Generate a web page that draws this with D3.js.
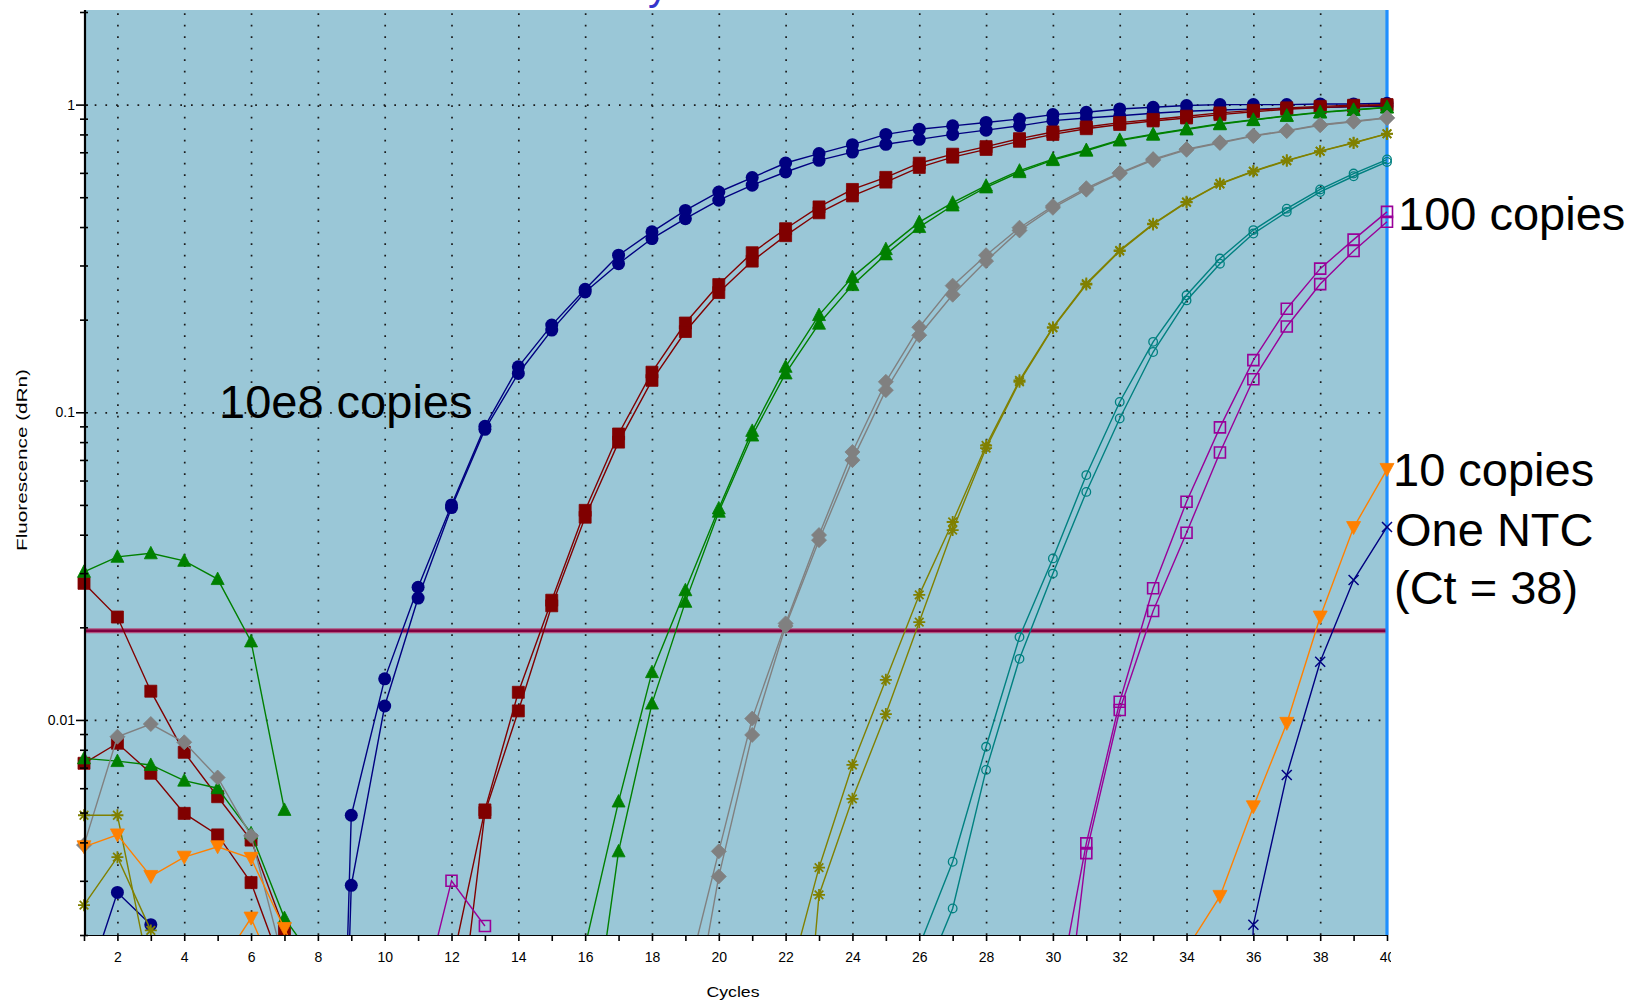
<!DOCTYPE html>
<html>
<head>
<meta charset="utf-8">
<script src="https://cdn.jsdelivr.net/npm/d3@7"></script>
<style>
  html, body { margin: 0; padding: 0; background: #ffffff; }
  svg { display: block; }
  text { font-family: "Liberation Sans", Arial, sans-serif; }
</style>
</head>
<body>
<svg id="chart" width="1632" height="1000"></svg>
<script>
// ---- Amplification data (dRn per cycle, cycles 1..40; null = no value plotted) ----
const N = null;
const cycles = d3.range(1, 41);

// 10e8 copies (duplicate wells)
const navyA = [N,N,N,N,N,N,N,1e-6,0.0049,0.0136,0.027,0.050,0.090,0.1405,0.192,0.251,0.324,0.386,0.453,0.52,0.579,0.646,0.693,0.741,0.80,0.832,0.853,0.875,0.898,0.928,0.944,0.968,0.98,0.993,1.0,1.0,1.0,1.005,1.005,1.01];
const navyB = [0.00129,0.00275,0.00216,N,N,N,N,1e-6,0.0029,0.0111,0.0249,0.049,0.088,0.1337,0.185,0.246,0.304,0.367,0.426,0.489,0.547,0.604,0.659,0.701,0.743,0.771,0.80,0.826,0.853,0.887,0.905,0.92,0.937,0.951,0.96,0.967,0.973,0.978,0.984,0.99];
// 10e7 copies
const redA = [0.0278,0.0216,0.0124,0.00785,0.00563,0.00407,0.00208,N,N,N,N,0.00158,0.0051,0.0123,0.0245,0.048,0.085,0.135,0.195,0.26,0.33,0.395,0.465,0.53,0.58,0.645,0.69,0.73,0.775,0.815,0.846,0.874,0.895,0.917,0.94,0.958,0.976,0.987,0.995,1.0];
const redB = [0.00723,0.0084,0.00671,0.00497,0.00423,0.00296,0.0015,N,N,N,N,0.00063,0.0050,0.0107,0.0235,0.0456,0.080,0.127,0.183,0.245,0.31,0.375,0.445,0.505,0.56,0.625,0.675,0.715,0.76,0.80,0.835,0.862,0.885,0.905,0.928,0.948,0.966,0.978,0.988,0.995];
// 10e6 copies
const greenA = [0.0303,0.0339,0.0348,0.0329,0.0287,0.0180,0.0051,N,N,N,N,N,N,N,N,0.00184,0.00543,0.0143,0.0264,0.0487,0.087,0.1405,0.207,0.275,0.339,0.415,0.48,0.545,0.61,0.665,0.712,0.768,0.802,0.834,0.867,0.893,0.921,0.945,0.962,0.98];
const greenB = [0.0075,0.00735,0.00714,0.00635,0.0060,0.00428,0.00227,0.0016,N,N,N,N,N,N,N,0.00063,0.00374,0.0113,0.0242,0.0475,0.084,0.1337,0.194,0.259,0.326,0.40,0.47,0.538,0.603,0.66,0.708,0.764,0.798,0.83,0.863,0.89,0.918,0.942,0.96,0.978];
// 10e5 copies
const grayA = [0.00392,0.00882,0.0097,0.00846,0.0065,0.0042,0.0016,N,N,N,N,N,N,N,N,N,N,N,0.00137,0.00374,0.0101,0.0206,0.0399,0.0743,0.1256,0.189,0.258,0.324,0.398,0.468,0.535,0.60,0.665,0.717,0.754,0.793,0.823,0.86,0.883,0.906];
const grayB = [N,N,N,N,N,N,N,N,N,N,N,N,N,N,N,N,N,N,0.00077,0.0031,0.00894,0.0202,0.0384,0.0699,0.118,0.178,0.241,0.31,0.39,0.462,0.529,0.597,0.66,0.713,0.75,0.79,0.82,0.857,0.88,0.904];
// 10e4 copies
const oliveA = [0.0049,0.0049,0.00143,N,N,N,N,N,N,N,N,N,N,N,N,N,N,N,N,N,N,0.0013,0.00331,0.00714,0.0135,0.0255,0.044,0.078,0.127,0.189,0.262,0.336,0.41,0.483,0.554,0.608,0.659,0.706,0.752,0.805];
const oliveB = [0.0025,0.00358,0.00207,N,N,N,N,N,N,N,N,N,N,N,N,N,N,N,N,N,N,0.000155,0.0027,0.00554,0.01045,0.0208,0.0414,0.0765,0.1256,0.188,0.26,0.334,0.408,0.481,0.552,0.606,0.657,0.705,0.75,0.803];
// 1000 copies
const tealA = [N,N,N,N,N,N,N,N,N,N,N,N,N,N,N,N,N,N,N,N,N,N,N,N,N,0.00184,0.00346,0.00818,0.0186,0.0335,0.0625,0.108,0.1694,0.24,0.316,0.391,0.459,0.53,0.597,0.663];
const tealB = [N,N,N,N,N,N,N,N,N,N,N,N,N,N,N,N,N,N,N,N,N,N,N,N,N,0.00133,0.00244,0.00688,0.0158,0.0299,0.0551,0.0955,0.157,0.231,0.304,0.381,0.448,0.52,0.585,0.651];
// 100 copies
const purpleA = [N,N,N,N,N,N,N,N,N,N,0.00109,0.0030,0.00214,N,N,N,N,N,N,N,N,N,N,N,N,N,N,N,N,0.00104,0.00397,0.01146,0.0268,0.0512,0.0893,0.1477,0.217,0.293,0.364,0.448];
const purpleB = [N,N,N,N,N,N,N,N,N,N,N,N,N,N,N,N,N,N,N,N,N,N,N,N,N,N,N,N,N,0.000456,0.00369,0.01077,0.0226,0.0406,0.074,0.128,0.19,0.261,0.3345,0.416];
// 10 copies
const orangeA = [0.00387,0.00423,0.0031,0.00358,0.00387,0.00355,0.0021,0.0012,N,N,N,N,N,N,N,N,N,N,N,N,N,N,N,N,N,N,N,N,N,N,N,N,N,0.0018,0.00267,0.00522,0.00975,0.0216,0.0422,0.0652];
const orangeB = [N,N,N,N,0.00155,0.00227,0.00128,N,N,N,N,N,N,N,N,N,N,N,N,N,N,N,N,N,N,N,N,N,N,N,N,N,N,N,N,N,N,N,N,N];
// no-template control
const ntc = [N,N,N,N,N,N,N,N,N,N,N,N,N,N,N,N,N,N,N,N,N,N,N,N,N,N,N,N,N,N,N,N,N,N,1e-6,0.00216,0.00662,0.01545,0.0285,0.0424];

const threshold = [0.0195];

// Axis ticks
const xLabelTicks = d3.range(2, 41, 2);
const yMajorTicks = [0.01, 0.1, 1];
const yMajorLabels = ["0.01", "0.1", "1"];
const yMinorTicks = [0.002,0.003,0.004,0.005,0.006,0.007,0.008,0.009,
                     0.02,0.03,0.04,0.05,0.06,0.07,0.08,0.09,
                     0.2,0.3,0.4,0.5,0.6,0.7,0.8,0.9,2];

// Drawing order and appearance of each well
const wells = [
  { values: navyA,   color: "#000080", marker: "dot" },
  { values: navyB,   color: "#000080", marker: "dot" },
  { values: redA,    color: "#800000", marker: "square" },
  { values: redB,    color: "#800000", marker: "square" },
  { values: greenA,  color: "#008000", marker: "triUp" },
  { values: greenB,  color: "#008000", marker: "triUp" },
  { values: grayA,   color: "#808080", marker: "diamond" },
  { values: grayB,   color: "#808080", marker: "diamond" },
  { values: oliveA,  color: "#808000", marker: "star" },
  { values: oliveB,  color: "#808000", marker: "star" },
  { values: tealA,   color: "#008080", marker: "ring" },
  { values: tealB,   color: "#008080", marker: "ring" },
  { values: purpleA, color: "#990099", marker: "box" },
  { values: purpleB, color: "#990099", marker: "box" },
  { values: orangeA, color: "#ff8000", marker: "triDown" },
  { values: orangeB, color: "#ff8000", marker: "triDown" },
  { values: ntc,     color: "#000080", marker: "cross" }
];

// ---- Layout ----
const svg = d3.select("#chart");
const plot = { left: 84, right: 1387, top: 10, bottom: 935 };

const x = d3.scaleLinear().domain([1, 40]).range([plot.left, plot.right]);
const y = d3.scaleLog().domain([0.002, 2.03]).range([plot.bottom, plot.top]);

const defs = svg.append("defs");
defs.append("clipPath").attr("id", "plotClip")
  .append("rect")
  .attr("x", plot.left - 14).attr("y", plot.top)
  .attr("width", plot.right - plot.left + 30)
  .attr("height", plot.bottom - plot.top);
defs.append("clipPath").attr("id", "labelClip")
  .append("rect").attr("x", 0).attr("y", 0).attr("width", plot.right + 4).attr("height", 1000);

// Partial title glyph above the plot
svg.append("text")
  .attr("x", 648).attr("y", 0)
  .attr("font-size", 40)
  .attr("fill", "#3535cc")
  .text("y");

// Plot background
svg.append("rect")
  .attr("x", plot.left).attr("y", plot.top)
  .attr("width", plot.right - plot.left).attr("height", plot.bottom - plot.top)
  .attr("fill", "#9ac7d7");

// Dotted grid
const gridV = svg.append("g")
  .attr("transform", `translate(0,${plot.bottom})`)
  .call(d3.axisBottom(x).tickValues(xLabelTicks.filter(d => d < 40))
    .tickSize(-(plot.bottom - plot.top)).tickFormat(""));
gridV.select(".domain").remove();
gridV.selectAll("line").attr("stroke", "#1a1a1a").attr("stroke-width", 1.7)
  .attr("stroke-dasharray", "1.7 9.8");

const gridH = svg.append("g")
  .attr("transform", `translate(${plot.left},0)`)
  .call(d3.axisLeft(y).tickValues(yMajorTicks)
    .tickSize(-(plot.right - plot.left)).tickFormat(""));
gridH.select(".domain").remove();
gridH.selectAll("line").attr("stroke", "#1a1a1a").attr("stroke-width", 1.7)
  .attr("stroke-dasharray", "1.7 9");

// Threshold
svg.append("g").selectAll("line").data(threshold).join("line")
  .attr("x1", plot.left).attr("x2", plot.right)
  .attr("y1", d => y(d)).attr("y2", d => y(d))
  .attr("stroke", "#b0527e").attr("stroke-width", 5);
svg.append("g").selectAll("line").data(threshold).join("line")
  .attr("x1", plot.left).attr("x2", plot.right)
  .attr("y1", d => y(d)).attr("y2", d => y(d))
  .attr("stroke", "#800040").attr("stroke-width", 2.6);

// Right-hand cycle marker line
svg.append("line")
  .attr("x1", x(40)).attr("x2", x(40))
  .attr("y1", plot.top).attr("y2", plot.bottom)
  .attr("stroke", "#1e8fff").attr("stroke-width", 3.2);

// Curves
const line = d3.line()
  .defined(d => d.v != null)
  .x(d => x(d.c))
  .y(d => y(d.v));

const series = svg.append("g").attr("clip-path", "url(#plotClip)");

const markerPath = {
  square:  s => "M-6,-6H6V6H-6Z",
  triUp:   s => "M0,-7L6.5,5.5H-6.5Z",
  triDown: s => "M-7,-6H7L0,7Z",
  diamond: s => "M0,-7.5L7.5,0L0,7.5L-7.5,0Z",
  box:     s => "M-5.5,-5.5H5.5V5.5H-5.5Z",
  star:    s => "M-6,0H6M0,-6V6M-4.3,-4.3L4.3,4.3M-4.3,4.3L4.3,-4.3",
  cross:   s => "M-5,-5L5,5M-5,5L5,-5"
};

wells.forEach(w => {
  const pts = cycles.map((c, i) => ({ c, v: w.values[i] }));
  const g = series.append("g");
  g.append("path")
    .datum(pts)
    .attr("d", line)
    .attr("fill", "none")
    .attr("stroke", w.color)
    .attr("stroke-width", 1.4);

  const shown = pts.filter(d => d.v != null);
  const m = g.selectAll(".m").data(shown).join(w.marker === "dot" || w.marker === "ring" ? "circle" : "path")
    .attr("class", "m");
  if (w.marker === "dot") {
    m.attr("cx", d => x(d.c)).attr("cy", d => y(d.v)).attr("r", 6.5)
      .attr("fill", w.color);
  } else if (w.marker === "ring") {
    m.attr("cx", d => x(d.c)).attr("cy", d => y(d.v)).attr("r", 4.3)
      .attr("fill", "none").attr("stroke", w.color).attr("stroke-width", 1.3);
  } else {
    const open = (w.marker === "box" || w.marker === "star" || w.marker === "cross");
    m.attr("transform", d => `translate(${x(d.c)},${y(d.v)})`)
      .attr("d", markerPath[w.marker]())
      .attr("fill", open ? "none" : w.color)
      .attr("stroke", w.color)
      .attr("stroke-width", w.marker === "star" ? 1.8 : (w.marker === "box" ? 1.6 : (w.marker === "cross" ? 1.5 : 0.8)));
  }
});

// Axes
const xAxis = svg.append("g")
  .attr("transform", `translate(0,${plot.bottom})`)
  .attr("clip-path", "url(#labelClip)")
  .call(d3.axisBottom(x).tickValues(cycles).tickSize(6).tickPadding(11)
    .tickFormat(d => d % 2 === 0 ? d : ""));
xAxis.select(".domain").attr("stroke", "#000").attr("stroke-width", 2.2)
  .attr("d", `M${plot.left},0H${plot.right}`);
xAxis.selectAll(".tick line").attr("stroke", "#000").attr("stroke-width", 1.6).attr("y1", -2);
xAxis.selectAll(".tick text").attr("font-size", 14).attr("fill", "#000")
  .attr("font-family", "'Liberation Sans', Arial, sans-serif");

const yAllTicks = yMinorTicks.concat(yMajorTicks);
const yAxis = svg.append("g")
  .attr("transform", `translate(${plot.left + 1},0)`)
  .call(d3.axisLeft(y).tickValues(yAllTicks).tickSize(5).tickPadding(5)
    .tickFormat(d => {
      const k = yMajorTicks.indexOf(d);
      return k >= 0 ? yMajorLabels[k] : "";
    }));
yAxis.select(".domain").attr("stroke", "#000").attr("stroke-width", 2.2)
  .attr("d", `M0,${plot.top}V${plot.bottom}`);
yAxis.selectAll(".tick line").attr("stroke", "#000").attr("stroke-width", 1.6)
  .attr("x1", 3)
  .attr("x2", d => yMajorTicks.includes(d) ? -9 : -5);
yAxis.selectAll(".tick text").attr("font-size", 14).attr("fill", "#000")
  .attr("x", -10)
  .attr("font-family", "'Liberation Sans', Arial, sans-serif");

// Axis titles
svg.append("text")
  .attr("x", 733).attr("y", 997)
  .attr("text-anchor", "middle")
  .attr("font-size", 15)
  .attr("textLength", 53).attr("lengthAdjust", "spacingAndGlyphs")
  .text("Cycles");

svg.append("text")
  .attr("transform", "translate(27,460) rotate(-90)")
  .attr("text-anchor", "middle")
  .attr("font-size", 15)
  .attr("textLength", 182).attr("lengthAdjust", "spacingAndGlyphs")
  .text("Fluorescence (dRn)");

// Annotations
const notes = [
  { text: "10e8 copies", x: 219, y: 418 },
  { text: "100 copies",  x: 1398, y: 230 },
  { text: "10 copies",   x: 1393, y: 486 },
  { text: "One NTC",     x: 1395, y: 546 },
  { text: "(Ct = 38)",   x: 1394, y: 604 }
];
svg.append("g").selectAll("text").data(notes).join("text")
  .attr("x", d => d.x).attr("y", d => d.y)
  .attr("font-size", 47)
  .attr("fill", "#000")
  .text(d => d.text);
</script>
</body>
</html>
